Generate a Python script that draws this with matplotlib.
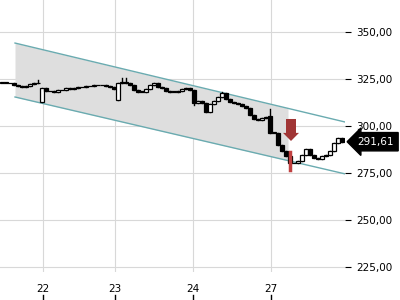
import numpy as np; import matplotlib.pyplot as plt
from matplotlib.patches import Rectangle, FancyArrow

# closes per bar (4 bars per ~16 px of the chart)
c = [322.9,322.9,322.6,321.8,321.0,320.7,321.3,322.1,322.6,323.0,
     320.2,318.4,318.6,318.1,319.1,319.1,320.2,319.9,320.2,320.5,
     320.7,321.0,321.3,321.8,321.6,321.6,321.3,320.7,319.7,322.9,
     323.4,322.9,321.8,319.1,318.1,318.1,319.7,321.8,322.9,320.7,
     320.2,318.6,318.1,318.1,318.6,319.7,320.2,319.1,312.2,313.3,
     312.2,307.4,311.7,313.3,315.4,317.6,314.4,312.8,312.2,311.7,
     310.6,309.6,305.9,303.7,303.2,304.3,304.8,296.3,296.3,289.9,
     286.7,284.0,280.3,280.3,281.4,284.6,287.8,284.6,283.0,282.5,
     284.0,284.6,286.7,291.0,293.6,291.61]
gap = {10:312.8, 29:313.8, 67:305.3}          # opening gaps
hi = {9:324.5, 30:325.5, 31:325.5, 55:318.1, 67:308.9}
lo = {48:311.2}
sig = (72, 286.2, 276.6)                      # red signal bar
up_ch = (3.25,344.1,85.75,302.1); lo_ch = (3.25,315.4,85.75,274.5)
shade_end = 71.5
yt = [225,250,275,300,325,350]
xt = [10.25,28.25,47.75,67.25]; xl = ['22','23','24','27']

fig = plt.figure(figsize=(4,3),dpi=100)
ax = fig.add_axes([0,28/300,345/400,272/300])
ax.set_xlim(-0.5,85.75); ax.set_ylim(222.3,367.0)

def line(ch,x): return ch[1]+(ch[3]-ch[1])*(x-ch[0])/(ch[2]-ch[0])
xs = np.array([up_ch[0],shade_end])
ax.fill_between(xs,line(up_ch,xs),line(lo_ch,xs),color='#dedede',zorder=1,lw=0)
for ch in (up_ch,lo_ch): ax.plot([ch[0],ch[2]],[ch[1],ch[3]],color='#6aabb0',lw=1,zorder=2)

for i,cl in enumerate(c):
    o = gap.get(i, c[i-1] if i else cl)
    h = hi.get(i,max(o,cl)); l = lo.get(i,min(o,cl))
    ax.plot([i,i],[l,h],color='k',lw=1,zorder=3)
    b = max(abs(cl-o),0.25)
    ax.add_patch(Rectangle((i-0.38,min(o,cl)),0.76,b,facecolor='white' if cl>=o else 'black',
                           edgecolor='black',lw=0.9,zorder=4))
ax.plot([sig[0],sig[0]],[sig[2],sig[1]],color='#c04040',lw=2.5,zorder=5)
ax.add_patch(FancyArrow(72.25,303.7,0,-11.7,width=2.5,head_width=4,head_length=4.3,
                        length_includes_head=True,color='#a03535',lw=0,zorder=6))

ax.set_yticks(yt); ax.set_yticklabels([f'{v:.2f}'.replace('.',',') for v in yt])
ax.set_xticks(xt); ax.set_xticklabels(xl)
ax.yaxis.tick_right()
ax.tick_params(axis='y',length=4,pad=4,labelsize=7.5,colors='black')
ax.tick_params(axis='x',length=0,pad=9,labelsize=7.5)
ax.grid(color='#d8d8d8',lw=0.8,zorder=0); ax.set_axisbelow(True)
for s in ax.spines.values(): s.set_visible(False)
for x in xt: ax.plot([x,x],[-0.085,-0.103],color='k',lw=1,clip_on=False,
                     transform=ax.get_xaxis_transform())
ax.annotate('291,61',xy=(1.0,c[-1]),xycoords=('axes fraction','data'),xytext=(9,0),
            textcoords='offset points',va='center',ha='left',color='white',fontsize=7.5,
            bbox=dict(boxstyle='larrow,pad=0.4',fc='black',ec='black'),annotation_clip=False)
fig.savefig('out.png')
